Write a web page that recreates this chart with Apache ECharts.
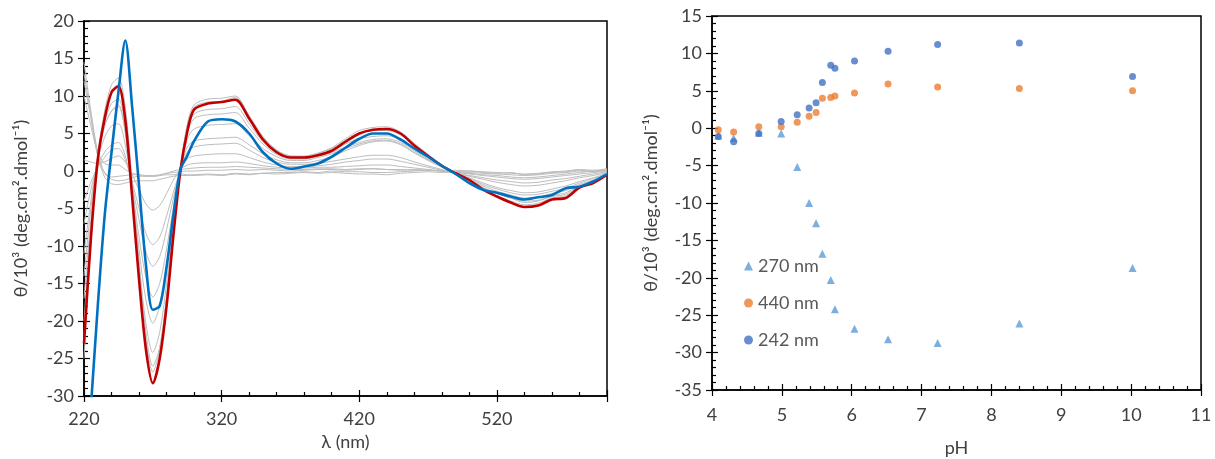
<!DOCTYPE html>
<html>
<head>
<meta charset="utf-8">
<script src="https://cdn.jsdelivr.net/npm/echarts@6/dist/echarts.min.js"></script>
<style>
html,body{margin:0;padding:0;background:#fff;}
#chart{width:1215px;height:459px;}
</style>
</head>
<body>
<div id="chart"></div>
<script>
// ---------- Left panel: CD spectra ----------
const wavelengths = [220,225,230,235,240,245,250,255,260,265,270,275,280,285,290,295,300,
  310,320,330,340,350,360,370,380,390,400,410,420,430,440,450,460,470,480,490,500,510,520,530,540,550,560,570,580,590,600];

const specRed = [-23,-9,1.5,7,10.5,11.3,6.8,-3.5,-14.5,-23.8,-28.3,-25,-18,-8.5,0,5.2,8.2,
  9.0,9.2,9.5,7.0,4.2,2.5,1.8,1.8,2.1,2.7,3.9,5.0,5.5,5.6,5.0,3.4,2.0,0.7,-0.3,-1.2,-2.5,-3.4,-4.2,-4.8,-4.6,-3.8,-3.6,-2.2,-1.6,-0.5];

const specBlue = [-44,-31.5,-18,-6,2.5,10.5,17.4,8.5,-2,-12.5,-18.5,-18.0,-12.8,-5.8,0.2,2.0,4.0,
  6.6,6.9,6.6,5.0,2.5,1.0,0.3,0.6,1.0,1.9,3.1,4.3,5.0,5.0,4.2,3.0,1.9,0.7,-0.4,-1.6,-2.5,-2.9,-3.4,-3.8,-3.5,-3.2,-2.3,-2.1,-1.4,-0.4];

const gray_pH409 = [14.5,8,2.5,-0.3,-1.1,-1.3,-1.2,-0.9,-0.7,-0.7,-0.7,-0.6,-0.5,-0.5,-0.4,-0.5,-0.5,
  -0.4,-0.5,-0.3,-0.4,-0.3,-0.2,-0.2,-0.1,-0.2,0,-0.1,-0.1,-0.2,-0.2,-0.1,0,0.1,0,0.1,0,-0.1,-0.2,-0.3,-0.4,-0.3,-0.1,0,0.2,0.1,0.3];
const gray_pH431 = [13,7.5,2,-0.8,-1.7,-1.8,-1.6,-1.4,-1.3,-1.3,-1.3,-1.1,-0.9,-0.7,-0.6,-0.6,-0.6,
  -0.5,-0.6,-0.4,-0.5,-0.3,-0.4,-0.3,-0.2,-0.3,-0.2,-0.3,-0.4,-0.4,-0.5,-0.3,-0.2,-0.1,-0.2,-0.1,0,-0.2,-0.3,-0.2,-0.5,-0.4,-0.2,-0.1,0.1,0,0.2];
const gray_pH467 = [12,7,2,-0.2,-0.8,-0.7,-0.6,-0.5,-0.5,-0.6,-0.6,-0.5,-0.3,-0.2,-0.1,0,0,
  0.1,0.1,0.2,0.1,0.2,0.1,0,0.1,0.2,0.2,0.1,0.2,0.3,0.2,0.1,0.2,0.1,0,-0.1,-0.2,-0.3,-0.4,-0.5,-0.6,-0.5,-0.3,-0.2,0,-0.1,0.1];
const gray_pH499 = [10,6,2.5,1,0.8,0.8,0.2,-0.3,-0.5,-0.7,-0.7,-0.6,-0.3,0,0.2,0.3,0.4,
  0.5,0.5,0.6,0.5,0.4,0.3,0.2,0.2,0.3,0.3,0.2,0.3,0.3,0.2,0.2,0.1,0.1,0,-0.2,-0.3,-0.5,-0.6,-0.8,-0.9,-0.8,-0.6,-0.4,-0.2,0,0.1];
const gray_pH522 = [1.5,1.2,1.0,1.2,1.7,2.0,1.2,-0.5,-2.5,-4.4,-5.2,-4.6,-3.0,-1.2,0.2,0.8,1.0,
  1.1,1.1,1.2,1.0,0.7,0.5,0.4,0.4,0.5,0.5,0.6,0.7,0.8,0.8,0.6,0.4,0.2,0,-0.2,-0.4,-0.6,-0.8,-1.0,-1.1,-1.0,-0.8,-0.6,-0.4,-0.2,0];
const gray_pH539 = [-4,-1.5,0.5,1.8,2.8,3.0,1.5,-1.5,-5,-8.3,-9.8,-8.8,-6,-2.8,0,1.6,2.0,
  2.2,2.3,2.3,1.8,1.2,0.8,0.6,0.6,0.7,0.9,1.2,1.4,1.6,1.6,1.3,0.9,0.5,0.1,-0.3,-0.6,-0.9,-1.2,-1.4,-1.6,-1.5,-1.2,-1.0,-0.7,-0.4,-0.1];
const gray_pH549 = [-7,-2.5,0.8,2.5,3.5,3.8,2,-2,-6.5,-10.8,-12.7,-11.4,-7.8,-3.6,0,2.5,3.2,
  3.5,3.6,3.7,2.8,1.8,1.2,0.9,0.9,1.0,1.3,1.6,1.9,2.1,2.1,1.8,1.2,0.7,0.2,-0.3,-0.7,-1.1,-1.5,-1.8,-2.0,-1.9,-1.6,-1.3,-0.9,-0.6,-0.2];
const gray_pH558 = [-11,-4,1.5,4.5,6,6.3,3.5,-2.3,-8.8,-14.2,-16.8,-15,-10.4,-4.8,0,3.2,4.0,
  4.3,4.4,4.5,3.5,2.3,1.5,1.1,1.1,1.4,1.9,2.7,3.4,3.9,4.0,3.5,2.4,1.4,0.5,-0.3,-0.9,-1.6,-2.2,-2.6,-2.9,-2.8,-2.4,-2.0,-1.4,-0.9,-0.3];
const gray_pH570 = [-14,-5,2,6,8,8.6,5,-2.5,-10.5,-17.2,-20.3,-18,-12.6,-5.8,0,4.2,5.6,
  6.1,6.2,6.3,4.7,3.0,1.9,1.4,1.4,1.8,2.3,3.0,3.6,4.0,4.1,3.6,2.5,1.5,0.5,-0.4,-1.0,-1.8,-2.4,-2.9,-3.2,-3.1,-2.7,-2.3,-1.6,-1.0,-0.4];
const gray_pH576 = [-17,-6.5,1.5,6,8,8.8,5.3,-3,-12.5,-20.3,-24.2,-21.5,-15,-7,0,5,7.0,
  7.5,7.6,7.8,5.7,3.6,2.2,1.6,1.6,2.0,2.5,3.2,3.8,4.2,4.3,3.8,2.7,1.6,0.6,-0.4,-1.1,-2.0,-2.7,-3.2,-3.6,-3.5,-3.0,-2.6,-1.8,-1.2,-0.4];
const gray_pH604 = [-20,-8,1.5,6.5,9,9.6,5.8,-3.2,-13.8,-22.5,-26.8,-23.8,-16.8,-7.9,0,5.5,7.6,
  8.2,8.3,8.6,6.3,3.9,2.4,1.7,1.7,2.1,2.7,3.6,4.3,4.6,4.7,4.2,3.0,1.8,0.6,-0.4,-1.2,-2.2,-3.0,-3.6,-4.0,-3.9,-3.3,-2.9,-2.0,-1.3,-0.5];
const gray_pH652 = [-22,-9,1,7,10.5,11.5,7.2,-3.3,-14.5,-23.8,-28.2,-25,-17.8,-8.3,0.3,6.2,8.8,
  9.6,9.7,10,7.2,4.4,2.7,2.0,2.0,2.4,3.1,4.3,5.4,5.8,5.9,5.2,3.7,2.2,0.8,-0.3,-1.2,-2.4,-3.3,-4.0,-4.5,-4.3,-3.6,-3.3,-2.1,-1.4,-0.5];
const gray_pH840 = [-25,-9.5,2,8,11.5,12.4,8.5,-1.5,-12,-21.5,-26,-23.5,-16.8,-8,0,6,8.5,
  9.2,9.3,9.8,7.4,4.6,2.8,2.0,1.9,2.3,3.0,4.1,5.0,5.4,5.4,4.8,3.4,2.0,0.7,-0.3,-1.2,-2.3,-3.0,-3.6,-4.2,-4.0,-3.4,-3.1,-2.0,-1.4,-0.4];

// ---------- Right panel: theta vs pH ----------
const pH       = [4.09,4.31,4.67,4.99,5.22,5.39,5.49,5.58,5.70,5.76,6.04,6.52,7.23,8.40,10.02];
const theta270 = [-1.0,-1.3,-0.6,-0.7,-5.2,-10.0,-12.7,-16.8,-20.3,-24.2,-26.8,-28.2,-28.7,-26.1,-18.7];
const theta440 = [-0.2,-0.5,0.2,0.2,0.8,1.6,2.1,4.0,4.1,4.3,4.7,5.9,5.5,5.3,5.0];
const theta242 = [-1.1,-1.8,-0.7,0.9,1.8,2.7,3.4,6.1,8.4,8.0,9.0,10.3,11.2,11.4,6.9];

const legendNames = ['270 nm','440 nm','242 nm'];

const grayCurves = [gray_pH409,gray_pH431,gray_pH467,gray_pH499,gray_pH522,gray_pH539,gray_pH549,
  gray_pH558,gray_pH570,gray_pH576,gray_pH604,gray_pH652,gray_pH840];

const FONT = 'Lato, "Open Sans", sans-serif';
const LABEL_COLOR = '#404040';
const lbl = (extra) => Object.assign({color: LABEL_COLOR, fontFamily: FONT, fontSize: 18}, extra || {});

function mainAxis(gi, pos, min, max, interval, extra) {
  return Object.assign({
    gridIndex: gi, position: pos, type: 'value', min: min, max: max, interval: interval,
    axisLine: {show: true, onZero: false, lineStyle: {color: '#000', width: 1.5}},
    axisTick: {show: true, inside: true, length: 6, lineStyle: {color: '#000', width: 1.2}},
    minorTick: {show: true, splitNumber: 5, length: 4, lineStyle: {color: '#000', width: 1.2}},
    splitLine: {show: false}, minorSplitLine: {show: false},
    nameTextStyle: lbl(),
    nameLocation: 'middle'
  }, extra);
}
function overlayAxis(gi, pos, min, max, interval) {
  return {
    gridIndex: gi, position: pos, type: 'value', min: min, max: max, interval: interval,
    axisLine: {show: false, onZero: false},
    axisTick: {show: true, inside: false, length: 6, lineStyle: {color: '#000', width: 1.2}},
    minorTick: {show: false},
    axisLabel: {show: false},
    splitLine: {show: false}
  };
}

const series = [];
grayCurves.forEach(function (arr, k) {
  series.push({
    type: 'line', name: 'spec' + k, xAxisIndex: 0, yAxisIndex: 0,
    data: wavelengths.map(function (w, i) { return [w, arr[i]]; }),
    smooth: 0.3, symbol: 'none', silent: true,
    lineStyle: {color: '#bdbdbd', width: 1}
  });
});
series.push({
  type: 'line', name: 'specRed', xAxisIndex: 0, yAxisIndex: 0,
  data: wavelengths.map(function (w, i) { return [w, specRed[i]]; }),
  smooth: 0.3, symbol: 'none', silent: true,
  lineStyle: {color: '#C00000', width: 2.6}
});
series.push({
  type: 'line', name: 'specBlue', xAxisIndex: 0, yAxisIndex: 0,
  data: wavelengths.map(function (w, i) { return [w, specBlue[i]]; }),
  smooth: 0.3, symbol: 'none', silent: true,
  lineStyle: {color: '#0070C0', width: 2.6}
});
series.push({
  type: 'scatter', name: legendNames[0], xAxisIndex: 2, yAxisIndex: 2,
  data: pH.map(function (p, i) { return [p, theta270[i]]; }),
  symbol: 'triangle', symbolSize: 8, itemStyle: {color: '#5B9BD5'}
});
series.push({
  type: 'scatter', name: legendNames[1], xAxisIndex: 2, yAxisIndex: 2,
  data: pH.map(function (p, i) { return [p, theta440[i]]; }),
  symbol: 'circle', symbolSize: 7, itemStyle: {color: '#ED7D31'}
});
series.push({
  type: 'scatter', name: legendNames[2], xAxisIndex: 2, yAxisIndex: 2,
  data: pH.map(function (p, i) { return [p, theta242[i]]; }),
  symbol: 'circle', symbolSize: 7, itemStyle: {color: '#4472C4'}
});

const chart = echarts.init(document.getElementById('chart'), null, {renderer: 'canvas'});
chart.setOption({
  animation: false,
  backgroundColor: '#fff',
  textStyle: {fontFamily: FONT},
  grid: [
    {left: 84, top: 21, width: 523, height: 375, show: true, borderColor: '#000', borderWidth: 1.5,
     backgroundColor: 'rgba(0,0,0,0)', containLabel: false, outerBoundsMode: 'none'},
    {left: 712, top: 16, width: 489, height: 374, show: true, borderColor: '#000', borderWidth: 1.5,
     backgroundColor: 'rgba(0,0,0,0)', containLabel: false, outerBoundsMode: 'none'}
  ],
  legend: {
    orient: 'vertical', left: 739, top: 252, itemWidth: 9, itemHeight: 9, itemGap: 19,
    textStyle: {color: '#595959', fontFamily: FONT, fontSize: 18},
    data: [{name: legendNames[0], icon: 'triangle'}, {name: legendNames[1], icon: 'circle'}, {name: legendNames[2], icon: 'circle'}]
  },
  xAxis: [
    mainAxis(0, 'bottom', 220, 600, 100, {name: 'λ (nm)', nameGap: 34, axisLabel: lbl({margin: 14, showMaxLabel: false})}),
    overlayAxis(0, 'bottom', 220, 600, 100),
    mainAxis(1, 'bottom', 4, 11, 1, {name: 'pH', nameGap: 49, axisLabel: lbl({margin: 16})}),
    overlayAxis(1, 'bottom', 4, 11, 1)
  ],
  yAxis: [
    mainAxis(0, 'left', -30, 20, 5, {name: 'θ/10³ (deg.cm².dmol⁻¹)', nameGap: 54, axisLabel: lbl({margin: 10})}),
    overlayAxis(0, 'left', -30, 20, 5),
    mainAxis(1, 'left', -35, 15, 5, {name: 'θ/10³ (deg.cm².dmol⁻¹)', nameGap: 52, axisLabel: lbl({margin: 10})}),
    overlayAxis(1, 'left', -35, 15, 5)
  ],
  series: series
});
</script>
</body>
</html>
